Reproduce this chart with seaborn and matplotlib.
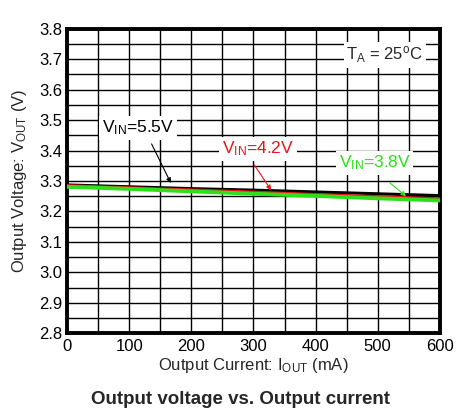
import matplotlib
matplotlib.use('Agg')
import matplotlib.pyplot as plt
import seaborn as sns
import pandas as pd
import numpy as np

# data
current_ma = [0, 100, 200, 300, 400, 500, 600]
vout_55 = [3.287, 3.281, 3.275, 3.270, 3.264, 3.258, 3.252]
vout_42 = [3.285, 3.278, 3.271, 3.264, 3.256, 3.249, 3.242]
vout_38 = [3.281, 3.274, 3.266, 3.258, 3.251, 3.243, 3.236]

df = pd.DataFrame({
    'I': current_ma * 3,
    'V': vout_55 + vout_42 + vout_38,
    'Vin': ['5.5'] * 7 + ['4.2'] * 7 + ['3.8'] * 7,
})

sns.set_style('white')
plt.rcParams['font.family'] = ['Liberation Sans', 'DejaVu Sans']
plt.rcParams['mathtext.default'] = 'regular'

fig = plt.figure(figsize=(4.76, 4.18), dpi=100)
ax = fig.add_axes([0.141, 0.203, 0.783, 0.728])

palette = {'5.5': 'black', '4.2': '#e8141b', '3.8': '#2ee01a'}
widths = {'5.5': 2.2, '4.2': 2.0, '3.8': 2.8}
for vin in ['5.5', '4.2', '3.8']:
    sns.lineplot(data=df[df['Vin'] == vin], x='I', y='V', color=palette[vin],
                 linewidth=widths[vin], ax=ax, legend=False, zorder=3)

ax.set_xlim(0, 600)
ax.set_ylim(2.8, 3.8)
ax.set_xticks(np.arange(0, 601, 100))
ax.set_yticks(np.round(np.arange(2.8, 3.81, 0.1), 1))
ax.set_xticks(np.arange(0, 601, 50), minor=True)
ax.set_yticks(np.arange(2.8, 3.81, 0.05), minor=True)
ax.grid(True, which='both', color='black', linewidth=1.0)
ax.set_axisbelow(True)
ax.tick_params(which='both', length=0, labelsize=12, colors='black')
ax.tick_params(axis='x', pad=4)
for s in ax.spines.values():
    s.set_color('black')
    s.set_linewidth(2.8)

ax.set_xlabel('Output Current: I$_{OUT}$ (mA)', fontsize=12, labelpad=2)
ax.set_ylabel('Output Voltage: V$_{OUT}$ (V)', fontsize=12, labelpad=7)

box = dict(facecolor='white', edgecolor='none', pad=2)
ax.text(511, 3.714, 'T$_{A}$ = 25$^{o}$C', fontsize=12, ha='center', va='center', bbox=box)

labels = [
    ('V$_{IN}$=5.5V', (114, 3.474), (134, 3.43), (169, 3.285), palette['5.5']),
    ('V$_{IN}$=4.2V', (307, 3.405), (299, 3.36), (331, 3.262), palette['4.2']),
    ('V$_{IN}$=3.8V', (495, 3.36), (516, 3.30), (549, 3.244), palette['3.8']),
]
for txt, pos, start, end, col in labels:
    ax.text(pos[0], pos[1], txt, fontsize=12.5, color=col, ha='center', va='center',
            bbox=box, zorder=5)
    ax.annotate('', xy=end, xytext=start,
                arrowprops=dict(arrowstyle='-|>', color=col, lw=0.8, mutation_scale=7),
                zorder=4)

fig.text(0.506, 0.045, 'Output voltage vs. Output current', fontsize=13.5,
         fontweight='bold', ha='center', va='center')

fig.savefig('out.png', dpi=100)
